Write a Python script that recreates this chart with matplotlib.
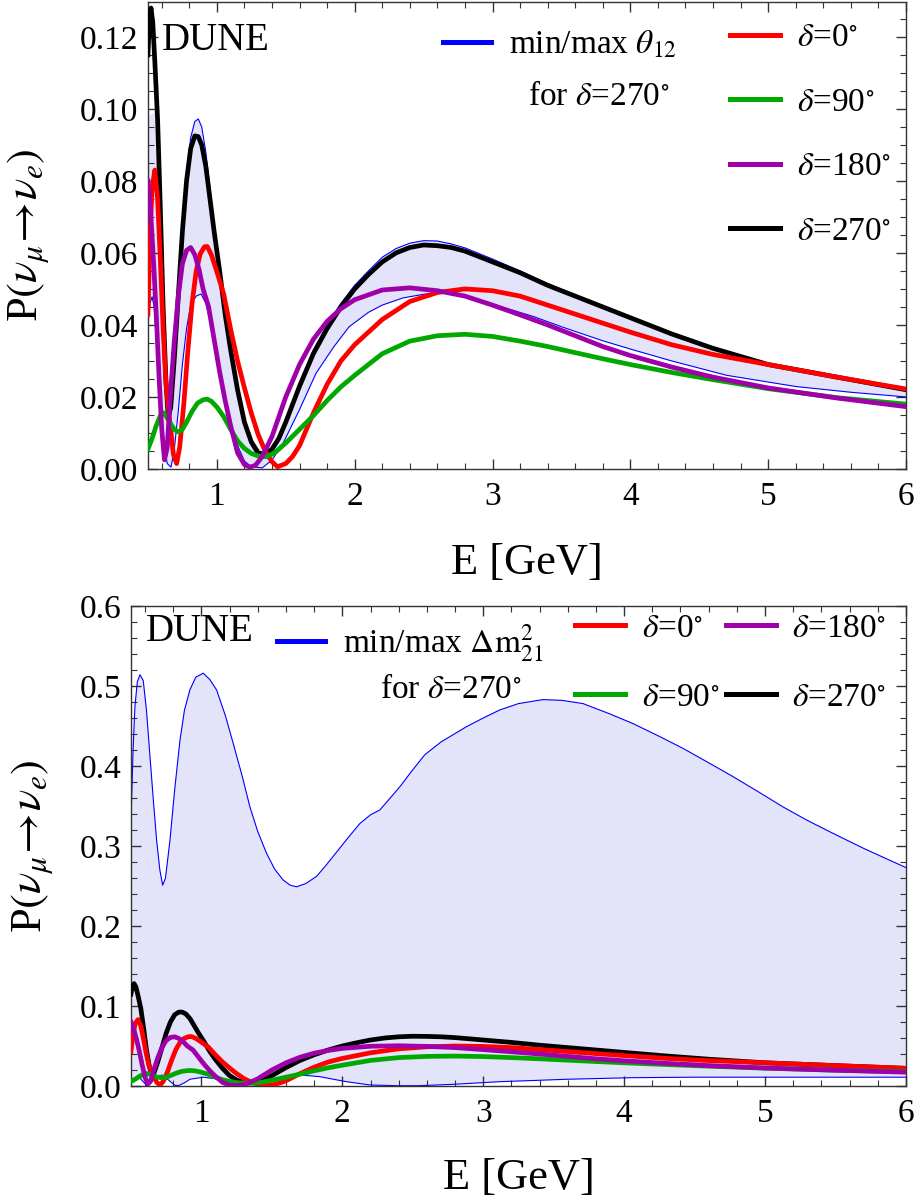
import matplotlib
matplotlib.use('Agg')
import matplotlib.pyplot as plt
from matplotlib.lines import Line2D
from matplotlib.ticker import MultipleLocator, FormatStrFormatter

plt.rcParams['font.family'] = 'serif'
plt.rcParams['font.serif'] = ['Liberation Serif', 'DejaVu Serif']
plt.rcParams['mathtext.fontset'] = 'stix'

# --- delta curves (same in both panels) ---
E_d270 = [0.50, 0.51, 0.522, 0.535, 0.55, 0.57, 0.59, 0.61, 0.63, 0.647, 0.665, 0.69, 0.72,
          0.75, 0.78, 0.81, 0.84, 0.865, 0.89, 0.92, 0.95, 0.98, 1.02, 1.06, 1.10, 1.15,
          1.20, 1.25, 1.30, 1.35, 1.40, 1.45, 1.5, 1.6, 1.7, 1.8, 1.9, 2.0, 2.1, 2.2, 2.3,
          2.4, 2.5, 2.6, 2.7, 2.8, 3.0, 3.2, 3.4, 3.6, 3.8, 4.0, 4.3, 4.6, 5.0, 5.5, 6.0]
P_d270 = [0.115, 0.124, 0.128, 0.124, 0.113, 0.097, 0.072, 0.045, 0.025, 0.0145, 0.017, 0.030,
          0.048, 0.066, 0.080, 0.089, 0.0925, 0.0923, 0.090, 0.084, 0.075, 0.066, 0.055,
          0.043, 0.033, 0.022, 0.013, 0.0075, 0.0045, 0.004, 0.0055, 0.0085, 0.013, 0.023,
          0.032, 0.039, 0.045, 0.050, 0.054, 0.0575, 0.060, 0.0615, 0.0622, 0.062, 0.0615,
          0.0605, 0.0575, 0.0545, 0.051, 0.048, 0.045, 0.042, 0.0375, 0.0335, 0.029, 0.0255,
          0.022]

E_d0 = [0.50, 0.515, 0.53, 0.55, 0.57, 0.59, 0.61, 0.63, 0.66, 0.685, 0.708, 0.73, 0.76, 0.79,
        0.82, 0.85, 0.88, 0.91, 0.93, 0.96, 1.0, 1.05, 1.10, 1.15, 1.20, 1.25, 1.30, 1.35,
        1.40, 1.44, 1.50, 1.55, 1.6, 1.7, 1.8, 1.9, 2.0, 2.2, 2.4, 2.6, 2.8, 3.0, 3.2, 3.4,
        3.6, 3.8, 4.0, 4.3, 4.6, 5.0, 5.5, 6.0]
P_d0 = [0.043, 0.065, 0.078, 0.083, 0.075, 0.058, 0.039, 0.024, 0.0125, 0.004, 0.0015, 0.006,
        0.018, 0.033, 0.046, 0.055, 0.0598, 0.0617, 0.0618, 0.0595, 0.0548, 0.0485, 0.0388,
        0.030, 0.0225, 0.0155, 0.0095, 0.005, 0.002, 0.0006, 0.0015, 0.0035, 0.0065, 0.0155,
        0.0235, 0.030, 0.0345, 0.0415, 0.0465, 0.049, 0.050, 0.0495, 0.048, 0.0455, 0.043,
        0.0405, 0.038, 0.0345, 0.0318, 0.029, 0.0255, 0.0222]

E_d180 = [0.50, 0.52, 0.54, 0.56, 0.58, 0.60, 0.62, 0.64, 0.66, 0.69, 0.72, 0.75, 0.78, 0.81,
          0.84, 0.87, 0.90, 0.94, 0.98, 1.02, 1.06, 1.10, 1.15, 1.20, 1.24, 1.28, 1.33, 1.40,
          1.50, 1.6, 1.7, 1.8, 1.9, 2.0, 2.2, 2.4, 2.6, 2.8, 3.0, 3.2, 3.4, 3.6, 3.8, 4.0,
          4.3, 4.6, 5.0, 5.5, 6.0]
P_d180 = [0.080, 0.071, 0.058, 0.043, 0.026, 0.011, 0.0025, 0.006, 0.019, 0.035, 0.048, 0.057,
          0.0607, 0.0615, 0.0595, 0.0555, 0.050, 0.045, 0.036, 0.027, 0.019, 0.012, 0.0045,
          0.0012, 0.0005, 0.001, 0.0035, 0.009, 0.020, 0.029, 0.036, 0.041, 0.0445, 0.047,
          0.0497, 0.0503, 0.0495, 0.048, 0.0455, 0.0428, 0.040, 0.037, 0.034, 0.0315, 0.0283,
          0.0255, 0.0225, 0.0197, 0.0173]

E_d90 = [0.50, 0.53, 0.56, 0.59, 0.61, 0.63, 0.66, 0.69, 0.72, 0.75, 0.78, 0.82, 0.86, 0.90,
         0.93, 0.96, 1.00, 1.05, 1.10, 1.15, 1.20, 1.25, 1.30, 1.36, 1.42, 1.50, 1.6, 1.7,
         1.8, 1.9, 2.0, 2.2, 2.4, 2.6, 2.8, 3.0, 3.2, 3.4, 3.6, 3.8, 4.0, 4.3, 4.6, 5.0, 5.5,
         6.0]
P_d90 = [0.0055, 0.0085, 0.012, 0.0148, 0.0156, 0.0148, 0.0128, 0.011, 0.0103, 0.011, 0.013,
         0.016, 0.0183, 0.0192, 0.0194, 0.0188, 0.0172, 0.0145, 0.011, 0.0078, 0.0057, 0.0043,
         0.0036, 0.0034, 0.0045, 0.0072, 0.011, 0.0148, 0.019, 0.0228, 0.026, 0.032, 0.0355,
         0.037, 0.0374, 0.0368, 0.0355, 0.034, 0.0323, 0.0306, 0.029, 0.0268, 0.0248, 0.0223,
         0.0198, 0.018]

# --- band: min/max theta12 for delta=270 (top panel) ---
E_th_hi = [0.50, 0.55, 0.575, 0.59, 0.61, 0.63, 0.647, 0.665, 0.69, 0.72, 0.75, 0.78, 0.81,
           0.84, 0.865, 0.89, 0.92, 0.95, 0.98, 1.02, 1.06, 1.10, 1.15, 1.20, 1.25, 1.30, 1.35,
           1.40, 1.45, 1.5, 1.6, 1.7, 1.8, 1.9, 2.0, 2.1, 2.2, 2.3, 2.4, 2.5, 2.6, 2.7, 2.8,
           3.0, 3.2, 3.4, 3.6, 3.8, 4.0, 4.3, 4.6, 5.0, 5.5, 6.0]
P_th_hi = [0.098, 0.099, 0.097, 0.077, 0.050, 0.028, 0.016, 0.015, 0.027, 0.047, 0.066, 0.082,
           0.092, 0.0965, 0.0972, 0.095, 0.088, 0.078, 0.068, 0.056, 0.044, 0.033, 0.021,
           0.012, 0.0065, 0.0035, 0.0035, 0.0055, 0.009, 0.0135, 0.0235, 0.033, 0.040, 0.046,
           0.051, 0.055, 0.0588, 0.0612, 0.0627, 0.0634, 0.0633, 0.0625, 0.0614, 0.0583, 0.055,
           0.0515, 0.0483, 0.0452, 0.0422, 0.0377, 0.0336, 0.0291, 0.0255, 0.0221]
E_th_lo = [0.50, 0.515, 0.53, 0.545, 0.56, 0.58, 0.60, 0.62, 0.64, 0.667, 0.69, 0.72, 0.75,
           0.78, 0.81, 0.85, 0.885, 0.92, 0.96, 1.00, 1.05, 1.10, 1.15, 1.20, 1.25, 1.33, 1.40,
           1.48, 1.6, 1.72, 1.85, 1.96, 2.1, 2.2, 2.35, 2.5, 2.6, 2.8, 3.0, 3.3, 3.5, 3.8, 4.0,
           4.3, 4.7, 5.2, 5.6, 6.0]
P_th_lo = [0.040, 0.046, 0.0478, 0.045, 0.037, 0.025, 0.014, 0.006, 0.0015, 0.0005, 0.005,
           0.016, 0.029, 0.039, 0.0455, 0.048, 0.0486, 0.046, 0.0395, 0.031, 0.021, 0.013,
           0.0065, 0.0022, 0.0006, 0.0003, 0.0025, 0.0071, 0.0165, 0.0266, 0.034, 0.0395,
           0.0435, 0.0455, 0.0475, 0.0485, 0.049, 0.0483, 0.0458, 0.0423, 0.0395, 0.0356,
           0.0333, 0.030, 0.026, 0.0229, 0.0213, 0.020]

# --- band: min/max dm21^2 for delta=270 (bottom panel) ---
E_dm_hi = [0.5, 0.515, 0.528, 0.545, 0.564, 0.587, 0.61, 0.635, 0.66, 0.682, 0.705, 0.725,
           0.745, 0.777, 0.81, 0.848, 0.88, 0.918, 0.96, 1.013, 1.06, 1.108, 1.17, 1.226, 1.29,
           1.344, 1.40, 1.462, 1.52, 1.58, 1.63, 1.675, 1.74, 1.817, 1.88, 1.935, 2.03, 2.124,
           2.2, 2.266, 2.34, 2.408, 2.49, 2.585, 2.7, 2.88, 3.0, 3.117, 3.25, 3.424, 3.56,
           3.708, 3.9, 4.063, 4.25, 4.418, 4.6, 4.77, 4.95, 5.126, 5.3, 5.48, 5.7, 6.0]
P_dm_hi = [0.33, 0.42, 0.474, 0.505, 0.514, 0.507, 0.47, 0.412, 0.355, 0.3075, 0.27, 0.251,
           0.26, 0.3075, 0.37, 0.4325, 0.47, 0.495, 0.511, 0.516, 0.508, 0.495, 0.463, 0.428,
           0.387, 0.349, 0.318, 0.291, 0.271, 0.2575, 0.251, 0.249, 0.253, 0.262, 0.275, 0.287,
           0.308, 0.328, 0.339, 0.345, 0.36, 0.374, 0.393, 0.414, 0.43, 0.449, 0.46, 0.47,
           0.478, 0.483, 0.482, 0.478, 0.465, 0.453, 0.437, 0.422, 0.404, 0.387, 0.368, 0.349,
           0.332, 0.316, 0.297, 0.273]
E_dm_lo = [0.5, 0.55, 0.61, 0.658, 0.72, 0.77, 0.81, 0.836, 0.88, 0.918, 1.013, 1.13, 1.25,
           1.30, 1.367, 1.486, 1.6, 1.7, 1.84, 1.95, 2.03, 2.195, 2.4, 2.55, 2.786, 3.117,
           3.59, 4.06, 4.5, 5.0, 6.0]
P_dm_lo = [0.005, 0.0125, 0.001, 0.0075, 0.0138, 0.007, 0.001, 0.0004, 0.004, 0.0084, 0.011,
           0.0084, 0.0034, 0.002, 0.0042, 0.0084, 0.012, 0.0138, 0.0117, 0.008, 0.0054, 0.0013,
           0.0003, 0.0004, 0.0021, 0.0054, 0.0084, 0.0104, 0.011, 0.011, 0.011]

delta_labels = [r'$\delta$=0$^{\circ}$', r'$\delta$=90$^{\circ}$',
                r'$\delta$=180$^{\circ}$', r'$\delta$=270$^{\circ}$']
delta_colors = ['#ff0000', '#00a800', '#a000aa', '#000000']
band_color = '#e3e3fa'
ylab = r'P$(\nu_{\mu}\!\rightarrow\!\nu_{e})$'
xlab = 'E [GeV]'
LW = 3.4


def draw_panel(ax, e_hi, p_hi, e_lo, p_lo, skip_hi, ymax, ymajor, yminor, yfmt):
    ax.fill(list(e_hi) + list(e_lo[::-1]), list(p_hi) + list(p_lo[::-1]),
            color=band_color, lw=0, zorder=1)
    # the upper edge line is only visible once it leaves the plot frame region
    ax.plot(e_hi[skip_hi:], p_hi[skip_hi:], color='blue', lw=0.8, zorder=2)
    ax.plot(e_lo, p_lo, color='blue', lw=0.8, zorder=2)
    ax.plot(E_d270, P_d270, color=delta_colors[3], lw=LW, zorder=3)
    ax.plot(E_d0, P_d0, color=delta_colors[0], lw=LW, zorder=4)
    ax.plot(E_d90, P_d90, color=delta_colors[1], lw=LW, zorder=5)
    ax.plot(E_d180, P_d180, color=delta_colors[2], lw=LW, zorder=6)

    ax.set_xlim(0.5, 6)
    ax.set_ylim(0, ymax)
    ax.xaxis.set_major_locator(MultipleLocator(1))
    ax.xaxis.set_minor_locator(MultipleLocator(0.2))
    ax.yaxis.set_major_locator(MultipleLocator(ymajor))
    ax.yaxis.set_minor_locator(MultipleLocator(yminor))
    ax.yaxis.set_major_formatter(FormatStrFormatter(yfmt))
    ax.tick_params(which='both', direction='in', top=True, right=True,
                   color='#333333', labelsize=24)
    ax.tick_params(which='major', length=7, width=1)
    ax.tick_params(which='minor', length=4, width=0.8)
    ax.tick_params(axis='y', pad=7)
    ax.tick_params(axis='x', pad=9)
    for s in ax.spines.values():
        s.set_color('#333333')
        s.set_linewidth(1)


def proxies(colors):
    return [Line2D([], [], color=c, lw=3.6) for c in colors]


fig = plt.figure(figsize=(9.19, 12.04), dpi=100)
ax1 = fig.add_axes([0.1610, 0.6105, 0.8248, 0.3879])
ax2 = fig.add_axes([0.1425, 0.0980, 0.8433, 0.3987])

# top panel
draw_panel(ax1, E_th_hi, P_th_hi, E_th_lo, P_th_lo, 2, 0.1297, 0.02, 0.005, '%.2f')
ax1.set_xlabel(xlab, fontsize=32, va='center')
ax1.xaxis.set_label_coords(0.5, -0.201)
ax1.set_ylabel(ylab, fontsize=32, va='center')
ax1.yaxis.set_label_coords(-0.158, 0.5)
ax1.text(0.018, 0.917, 'DUNE', transform=ax1.transAxes, fontsize=28, va='center')
leg_a = ax1.legend(proxies(['blue']), [r'min/max $\theta_{12}$'], loc='upper left',
                   bbox_to_anchor=(0.389, 0.942), frameon=False, fontsize=24,
                   handlelength=1.45, handletextpad=0.55, borderpad=0, borderaxespad=0)
ax1.add_artist(leg_a)
ax1.text(0.594, 0.797, r'for $\delta$=270$^{\circ}$', transform=ax1.transAxes,
         fontsize=24, ha='center', va='center')
ax1.legend(proxies(delta_colors), delta_labels, loc='upper left',
           bbox_to_anchor=(0.768, 0.955), frameon=False, fontsize=24,
           handlelength=1.5, handletextpad=0.5, labelspacing=1.02,
           borderpad=0, borderaxespad=0)

# bottom panel
draw_panel(ax2, E_dm_hi, P_dm_hi, E_dm_lo, P_dm_lo, 0, 0.6, 0.1, 0.02, '%.1f')
ax2.set_xlabel(xlab, fontsize=32, va='center')
ax2.xaxis.set_label_coords(0.5, -0.192)
ax2.set_ylabel(ylab, fontsize=32, va='center')
ax2.yaxis.set_label_coords(-0.128, 0.5)
ax2.text(0.019, 0.946, 'DUNE', transform=ax2.transAxes, fontsize=28, va='center')
leg_b = ax2.legend(proxies(['blue']), [r'min/max $\Delta\mathrm{m}^2_{21}$'], loc='upper left',
                   bbox_to_anchor=(0.188, 0.965), frameon=False, fontsize=24,
                   handlelength=1.45, handletextpad=0.55, borderpad=0, borderaxespad=0)
ax2.add_artist(leg_b)
ax2.text(0.412, 0.825, r'for $\delta$=270$^{\circ}$', transform=ax2.transAxes,
         fontsize=24, ha='center', va='center')
ax2.legend(proxies(delta_colors), delta_labels,
           ncol=2, loc='upper left', bbox_to_anchor=(0.573, 0.985), frameon=False,
           fontsize=24, handlelength=1.5, handletextpad=0.5, labelspacing=1.15,
           columnspacing=0.2, borderpad=0, borderaxespad=0)

fig.savefig('out.png', dpi=100)
